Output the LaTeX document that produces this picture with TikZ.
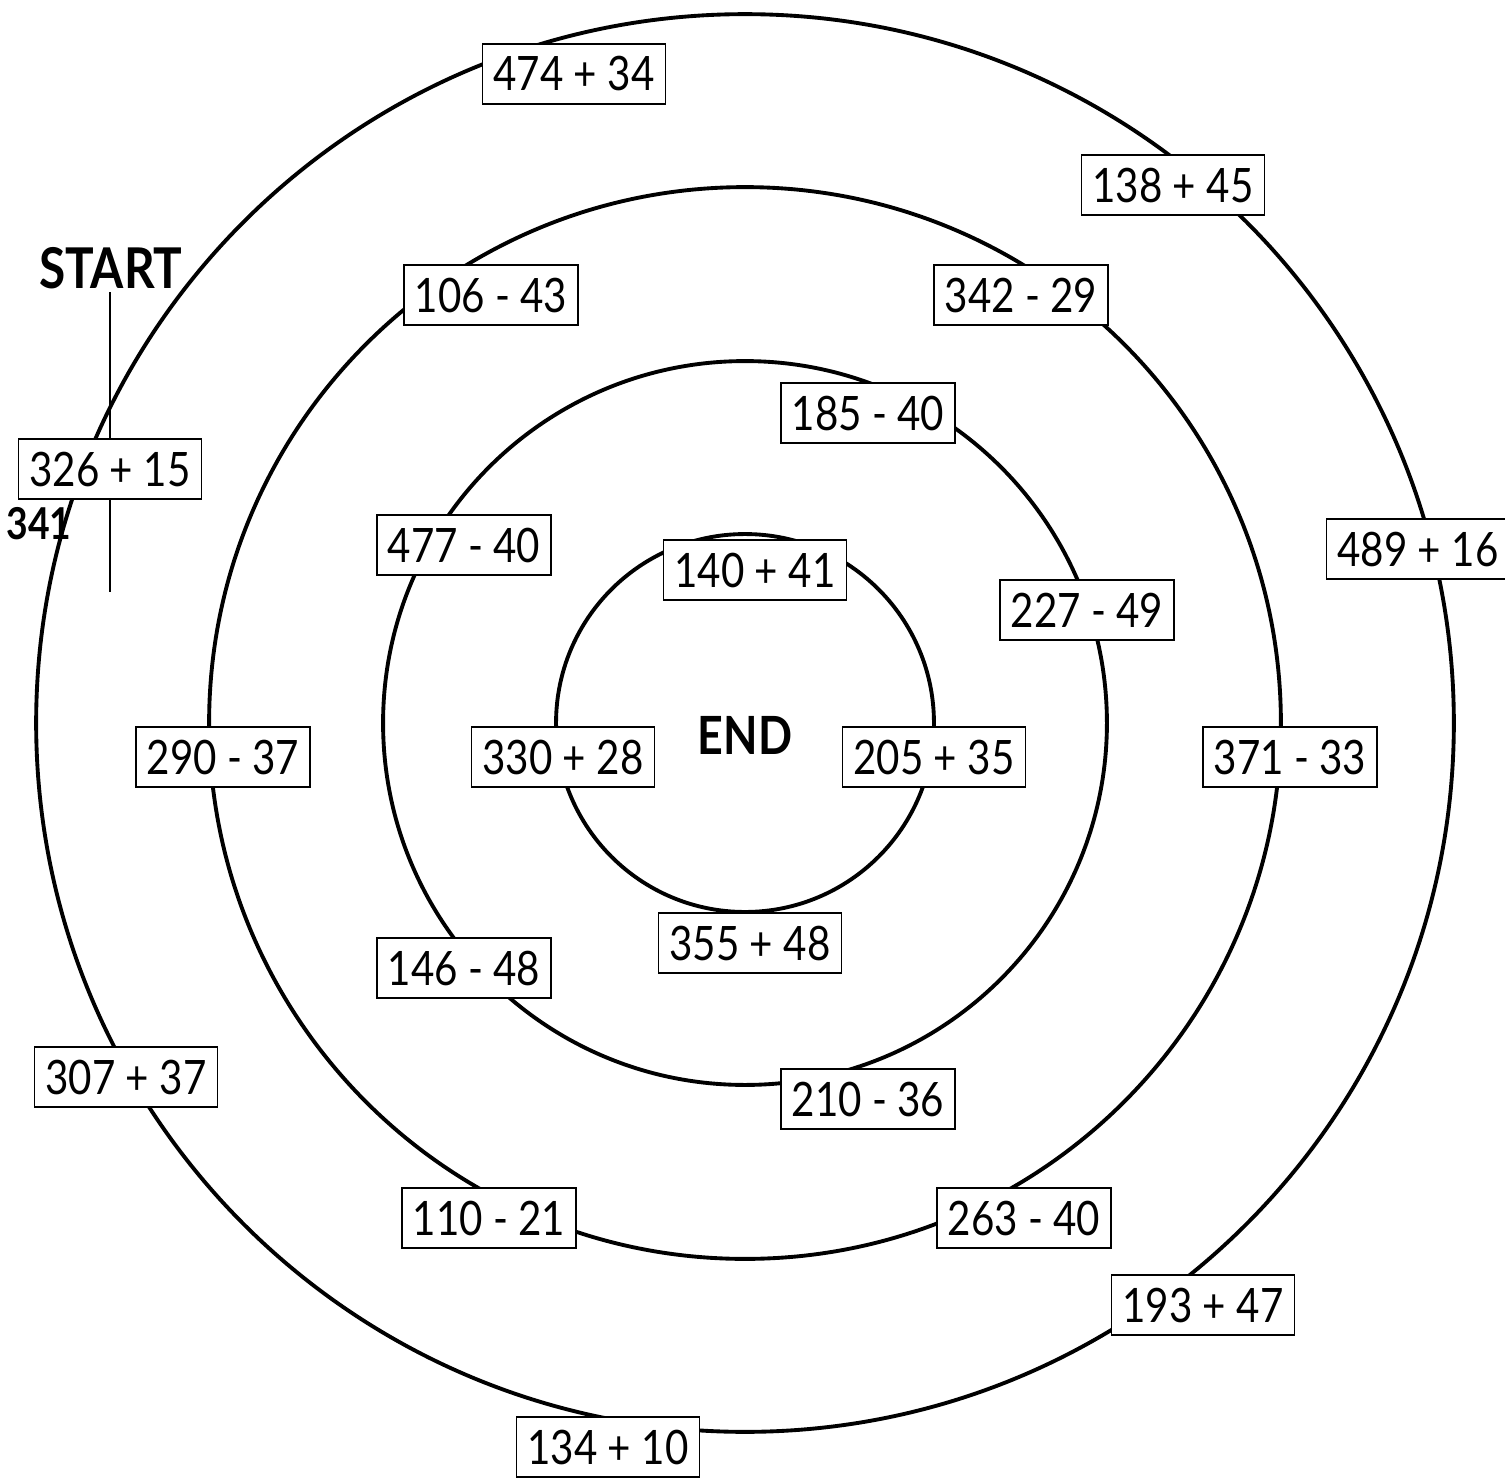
\documentclass[tikz,border=0pt]{standalone}
\usepackage{fontspec}
\setmainfont{Lato}[FakeStretch=0.85]
\usepackage{tikz}

\begin{document}
\begin{tikzpicture}[x=0.02cm,y=-0.02cm,
  ring/.style={line width=2.2pt},
  sum/.style={draw,fill=white,line width=1.1pt,minimum height=1.2cm,inner xsep=0.22cm,
    font=\fontsize{27}{31}\selectfont},
  tag/.style={font=\fontsize{25}{29}\selectfont\bfseries}]
\useasboundingbox (0,0) rectangle (1505,1478);

% the four rings
\coordinate (c) at (745,723);
\foreach \r in {14.18,10.72,7.24,3.78}
  \draw[ring] (c) circle[radius=\r cm];

% start marker
\node[tag,font=\fontsize{32}{36}\selectfont\bfseries] (start) at (111,268) {START};
\coordinate (top) at (110,292);
\coordinate (bottom) at (110,592);
\draw[line width=1pt] (top) -- (bottom);
\node[tag] (ans) at (39,524) {341};

\node[tag,font=\fontsize{30}{34}\selectfont\bfseries] (end) at (745,735) {END};

% the sums
\node[sum] (s1) at (574,74) {474 + 34};
\node[sum] (s2) at (1173,185) {138 + 45};
\node[sum] (s3) at (491,295) {106 - 43};
\node[sum] (s4) at (1021,295) {342 - 29};
\node[sum] (s5) at (868,413) {185 - 40};
\node[sum] (s6) at (110,469) {326 + 15};
\node[sum] (s7) at (464,545) {477 - 40};
\node[sum] (s8) at (755,570) {140 + 41};
\node[sum] (s9) at (1418,549) {489 + 16};
\node[sum] (s10) at (1087,610) {227 - 49};
\node[sum] (s11) at (223,757) {290 - 37};
\node[sum] (s12) at (563,757) {330 + 28};
\node[sum] (s13) at (934,757) {205 + 35};
\node[sum] (s14) at (1290,757) {371 - 33};
\node[sum] (s15) at (750,943) {355 + 48};
\node[sum] (s16) at (464,968) {146 - 48};
\node[sum] (s17) at (868,1099) {210 - 36};
\node[sum] (s18) at (126,1077) {307 + 37};
\node[sum] (s19) at (489,1218) {110 - 21};
\node[sum] (s20) at (1024,1218) {263 - 40};
\node[sum] (s21) at (1203,1305) {193 + 47};
\node[sum] (s22) at (608,1447) {134 + 10};
\end{tikzpicture}
\end{document}
